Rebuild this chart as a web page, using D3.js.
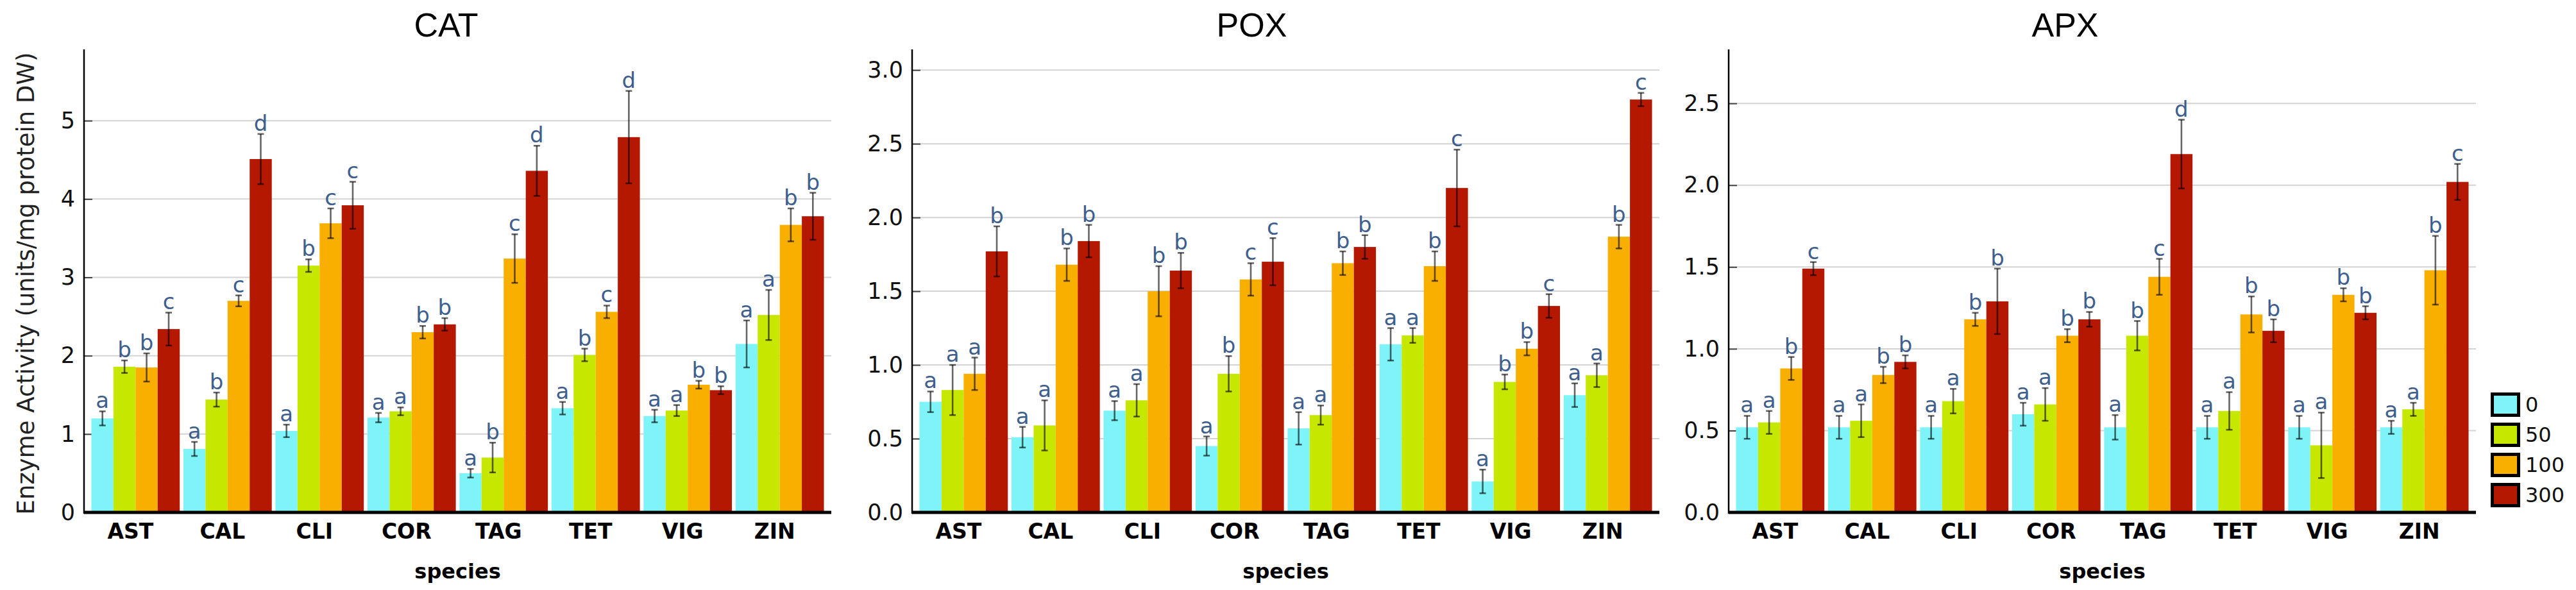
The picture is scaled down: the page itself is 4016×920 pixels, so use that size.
<!DOCTYPE html>
<html><head><meta charset="utf-8">
<script src="https://cdn.jsdelivr.net/npm/d3@7"></script>
<style>body{margin:0;background:#fff}</style>
</head><body><svg id="c" width="4016" height="920"></svg>
<script>
const species = ["AST","CAL","CLI","COR","TAG","TET","VIG","ZIN"];
const doses = ["0","50","100","300"];
const colors = ["#7ff4f8","#c6e800","#f9af00","#b51800"];

// CAT
const catMean = [[1.20,1.86,1.85,2.34],[0.81,1.44,2.70,4.51],[1.04,3.15,3.69,3.92],[1.21,1.29,2.30,2.40],
                 [0.50,0.70,3.24,4.36],[1.33,2.01,2.56,4.79],[1.23,1.30,1.63,1.56],[2.15,2.52,3.67,3.78]];
const catErr  = [[0.09,0.08,0.18,0.21],[0.09,0.09,0.07,0.32],[0.08,0.08,0.19,0.30],[0.06,0.05,0.08,0.08],
                 [0.055,0.19,0.31,0.32],[0.08,0.08,0.08,0.59],[0.08,0.07,0.05,0.05],[0.30,0.32,0.21,0.30]];
const catLet  = [["a","b","b","c"],["a","b","c","d"],["a","b","c","c"],["a","a","b","b"],
                 ["a","b","c","d"],["a","b","c","d"],["a","a","b","b"],["a","a","b","b"]];
const catTicks = [0,1,2,3,4,5];

// POX
const poxMean = [[0.75,0.83,0.94,1.77],[0.51,0.59,1.68,1.84],[0.69,0.76,1.50,1.64],[0.45,0.94,1.58,1.70],
                 [0.57,0.66,1.69,1.80],[1.14,1.20,1.67,2.20],[0.21,0.885,1.11,1.40],[0.795,0.93,1.87,2.80]];
const poxErr  = [[0.07,0.17,0.11,0.17],[0.07,0.17,0.11,0.11],[0.065,0.11,0.17,0.12],[0.065,0.12,0.11,0.16],
                 [0.11,0.065,0.08,0.08],[0.11,0.05,0.10,0.26],[0.08,0.05,0.045,0.08],[0.08,0.08,0.08,0.045]];
const poxLet  = [["a","a","a","b"],["a","a","b","b"],["a","a","b","b"],["a","b","c","c"],
                 ["a","a","b","b"],["a","a","b","c"],["a","b","b","c"],["a","a","b","c"]];
const poxTicks = [0,0.5,1,1.5,2,2.5,3];

// APX
const apxMean = [[0.52,0.55,0.88,1.49],[0.52,0.56,0.84,0.92],[0.52,0.68,1.18,1.29],[0.60,0.66,1.08,1.18],
                 [0.52,1.08,1.44,2.19],[0.52,0.62,1.21,1.11],[0.52,0.41,1.33,1.22],[0.52,0.63,1.48,2.02]];
const apxErr  = [[0.07,0.07,0.07,0.04],[0.07,0.10,0.05,0.04],[0.07,0.075,0.04,0.20],[0.07,0.10,0.04,0.045],
                 [0.075,0.09,0.11,0.21],[0.07,0.115,0.11,0.07],[0.07,0.20,0.04,0.04],[0.04,0.04,0.21,0.11]];
const apxLet  = [["a","a","b","c"],["a","a","b","b"],["a","a","b","b"],["a","a","b","b"],
                 ["a","b","c","d"],["a","a","b","b"],["a","a","b","b"],["a","a","b","c"]];
const apxTicks = [0,0.5,1,1.5,2,2.5];

const panels = [
  {title:"CAT", mean:catMean, err:catErr, lets:catLet, ticks:catTicks, ymax:5.91, fmt:d3.format("d"),   left:131,  tdx:-18},
  {title:"POX", mean:poxMean, err:poxErr, lets:poxLet, ticks:poxTicks, ymax:3.14, fmt:d3.format(".1f"), left:1422, tdx:-53},
  {title:"APX", mean:apxMean, err:apxErr, lets:apxLet, ticks:apxTicks, ymax:2.83, fmt:d3.format(".1f"), left:2695, tdx:-58}
];

const svg = d3.select("#c");
svg.append("rect").attr("width",4016).attr("height",920).attr("fill","#fff");
const W = 1165, yTop = 77, yBottom = 799;

panels.forEach((p, pi) => {
  const g = svg.append("g").attr("transform", `translate(${p.left},0)`);
  const x = d3.scaleBand().domain(species).range([0, W]).paddingInner(0.04).paddingOuter(0.08);
  const xs = d3.scaleBand().domain(doses).range([0, x.bandwidth()]).padding(0);
  const y = d3.scaleLinear().domain([0, p.ymax]).range([yBottom, yTop]);

  // gridlines
  g.append("g").selectAll("line").data(p.ticks.filter(t => t > 0)).join("line")
    .attr("x1", 0).attr("x2", W).attr("y1", d => y(d)).attr("y2", d => y(d))
    .attr("stroke", "#d3d3d3").attr("stroke-width", 2);

  // y axis
  const ya = g.append("g").call(d3.axisLeft(y).tickValues(p.ticks).tickFormat(p.fmt).tickSize(-13).tickPadding(14));
  ya.select(".domain").remove();
  ya.selectAll(".tick line").attr("stroke", "#444").attr("stroke-width", 2);
  ya.selectAll(".tick text").attr("font-family", "DejaVu Sans").attr("font-size", 35).attr("fill", "#111");
  g.append("line").attr("x1", 0).attr("x2", 0).attr("y1", yTop).attr("y2", yBottom + 2)
    .attr("stroke", "#000").attr("stroke-width", 2.5);

  // bars
  const grp = g.append("g").selectAll("g").data(species).join("g")
    .attr("transform", d => `translate(${x(d)},0)`);
  grp.each(function(sp, i) {
    const gg = d3.select(this);
    const rows = doses.map((d, j) => ({d, j, v: p.mean[i][j], e: p.err[i][j], l: p.lets[i][j]}));
    gg.selectAll("rect").data(rows).join("rect")
      .attr("x", r => xs(r.d)).attr("width", xs.bandwidth())
      .attr("y", r => y(r.v)).attr("height", r => y(0) - y(r.v))
      .attr("fill", r => colors[r.j]);
    const cx = r => xs(r.d) + xs.bandwidth() / 2;
    gg.selectAll("line.eb").data(rows).join("line").attr("class", "eb")
      .attr("x1", cx).attr("x2", cx).attr("y1", r => y(r.v - r.e)).attr("y2", r => y(r.v + r.e))
      .attr("stroke", "#000").attr("stroke-opacity", 0.6).attr("stroke-width", 2.6);
    ["lo","hi"].forEach(k => {
      gg.selectAll("line.c" + k).data(rows).join("line").attr("class", "c" + k)
        .attr("x1", r => cx(r) - 5).attr("x2", r => cx(r) + 5)
        .attr("y1", r => y(k === "lo" ? r.v - r.e : r.v + r.e))
        .attr("y2", r => y(k === "lo" ? r.v - r.e : r.v + r.e))
        .attr("stroke", "#000").attr("stroke-opacity", 0.6).attr("stroke-width", 2.6);
    });
    gg.selectAll("text").data(rows).join("text")
      .attr("x", cx).attr("y", r => y(r.v + r.e) - 5)
      .attr("text-anchor", "middle").attr("font-family", "DejaVu Sans").attr("font-size", 34)
      .attr("fill", "#3e5f8e").text(r => r.l);
  });

  // x axis
  g.append("line").attr("x1", 0).attr("x2", W).attr("y1", yBottom).attr("y2", yBottom)
    .attr("stroke", "#000").attr("stroke-width", 5);
  g.append("g").selectAll("text").data(species).join("text")
    .attr("x", d => x(d) + x.bandwidth() / 2 - 8).attr("y", 840)
    .attr("text-anchor", "middle").attr("font-family", "DejaVu Sans").attr("font-weight", "bold")
    .attr("font-size", 33).attr("fill", "#000").text(d => d);
  g.append("text").attr("x", W / 2).attr("y", 902).attr("text-anchor", "middle")
    .attr("font-family", "DejaVu Sans").attr("font-weight", "bold").attr("font-size", 32)
    .attr("fill", "#000").text("species");

  // title
  g.append("text").attr("x", W / 2 + p.tdx).attr("y", 57).attr("text-anchor", "middle")
    .attr("font-family", "Liberation Sans").attr("font-size", 52).attr("fill", "#000").text(p.title);
});

// y label
svg.append("text").attr("transform", "translate(53,442) rotate(-90)").attr("text-anchor", "middle")
  .attr("font-family", "DejaVu Sans").attr("font-size", 37).attr("fill", "#222")
  .text("Enzyme Activity (units/mg protein DW)");

// legend
const lg = svg.append("g").attr("transform", "translate(3883,612)");
const ly = d3.scaleBand().domain(doses).range([0, 188]).padding(0);
lg.selectAll("rect").data(doses).join("rect")
  .attr("x", 2.5).attr("y", d => ly(d) + 2.5).attr("width", 41).attr("height", 33)
  .attr("fill", (d, i) => colors[i]).attr("stroke", "#000").attr("stroke-width", 5);
lg.selectAll("text").data(doses).join("text")
  .attr("x", 54).attr("y", d => ly(d) + 19).attr("dominant-baseline", "central")
  .attr("font-family", "DejaVu Sans").attr("font-size", 32).attr("fill", "#111").text(d => d);
</script></body></html>
